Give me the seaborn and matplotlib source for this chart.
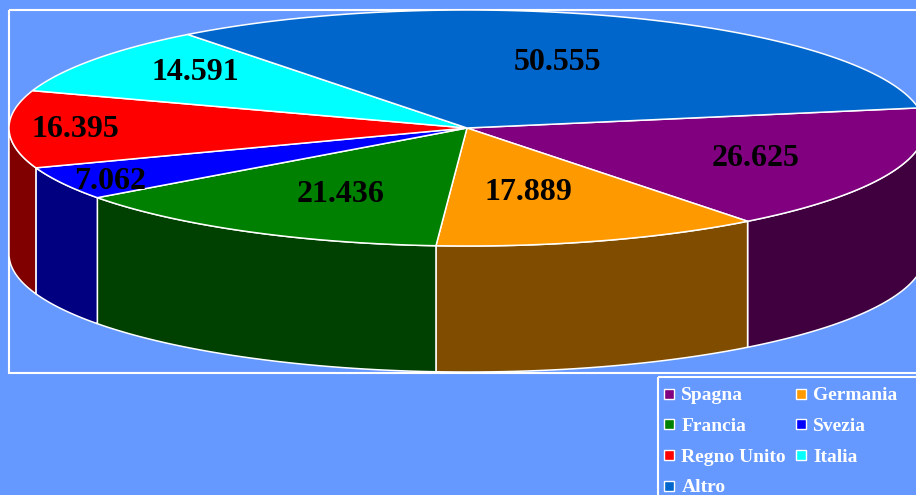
import numpy as np
import seaborn as sns
import matplotlib.pyplot as plt
from matplotlib.patches import Polygon, Rectangle
from matplotlib.lines import Line2D

# data
paesi = ['Spagna', 'Germania', 'Francia', 'Svezia', 'Regno Unito', 'Italia', 'Altro']
valori = [26.625, 17.889, 21.436, 7.062, 16.395, 14.591, 50.555]
etichette = ['26.625', '17.889', '21.436', '7.062', '16.395', '14.591', '50.555']
colori = ['#800080', '#FF9900', '#008000', '#0000FF', '#FF0000', '#00FFFF', '#0066CC']

# style / geometry of the 3d pie (pixel units)
sfondo = '#6699FF'
cx, cy, rx, ry, depth = 467, 128, 458, 118, 126
start = 9.8
label_r = [0.68, 0.56, 0.63, 0.9, 0.855, 0.755, 0.586]
label_dt = [-0.8, -3.2, 2.9, 2.0, 0.4, -2.7, 1.6]

sns.set_theme(style='white', rc={'figure.facecolor': sfondo, 'axes.facecolor': sfondo})
plt.rcParams['font.family'] = ['Liberation Serif', 'DejaVu Serif']

fig = plt.figure(figsize=(9.16, 4.95), dpi=100)
ax = fig.add_axes([0, 0, 1, 1])
ax.set_xlim(0, 916)
ax.set_ylim(495, 0)
ax.axis('off')

pal = sns.color_palette(colori)
scuri = [tuple(c * 0.5 for c in col) for col in pal]

def arc(t1, t2, dy=0, n=120):
    t = np.radians(np.linspace(t1, t2, n))
    return np.column_stack([cx + rx * np.cos(t), cy - ry * np.sin(t) + dy])

tot = sum(valori)
angoli = []
a = start
for v in valori:
    b = a - v / tot * 360
    angoli.append((a, b))
    a = b

# plot area frame + legend frame
ax.add_patch(Rectangle((9, 10), 940, 363, facecolor='none', edgecolor='white', lw=1.5, zorder=0))
ax.add_patch(Rectangle((658, 377), 300, 150, facecolor='none', edgecolor='white', lw=1.5, zorder=0))

# side walls (front half only)
for (a, b), c in zip(angoli, scuri):
    hi, lo = min(a, 0), max(b, -180)
    if hi <= lo:
        continue
    top = arc(hi, lo)
    bot = arc(lo, hi, dy=depth)
    ax.add_patch(Polygon(np.vstack([top, bot]), closed=True, facecolor=c,
                         edgecolor='white', lw=1.1, zorder=2))

# top faces
for (a, b), c in zip(angoli, pal):
    pts = np.vstack([[cx, cy], arc(a, b)])
    ax.add_patch(Polygon(pts, closed=True, facecolor=c, edgecolor='white', lw=1.1, zorder=3))

# value labels
for (a, b), txt, f, dt in zip(angoli, etichette, label_r, label_dt):
    m = np.radians((a + b) / 2 + dt)
    ax.text(cx + f * rx * np.cos(m), cy - f * ry * np.sin(m), txt, ha='center', va='center',
            fontsize=23, fontweight='bold', color='black', zorder=5)

# legend, row-major order in 2 columns
ordine = [0, 2, 4, 6, 1, 3, 5]
handles = [Line2D([], [], marker='s', linestyle='', markersize=7, markerfacecolor=colori[i],
                  markeredgecolor='white', markeredgewidth=1.0) for i in ordine]
leg = fig.legend(handles, [paesi[i] for i in ordine], ncol=2, loc='upper left',
                 bbox_to_anchor=(658 / 916, 1 - 382 / 495), borderaxespad=0,
                 frameon=False, handlelength=0.6, handletextpad=0.35, columnspacing=0.45,
                 labelspacing=0.67, borderpad=0.25,
                 prop={'family': 'Liberation Serif', 'weight': 'bold', 'size': 14})
for t in leg.get_texts():
    t.set_color('white')

fig.savefig('out.png', dpi=100, facecolor=sfondo)
